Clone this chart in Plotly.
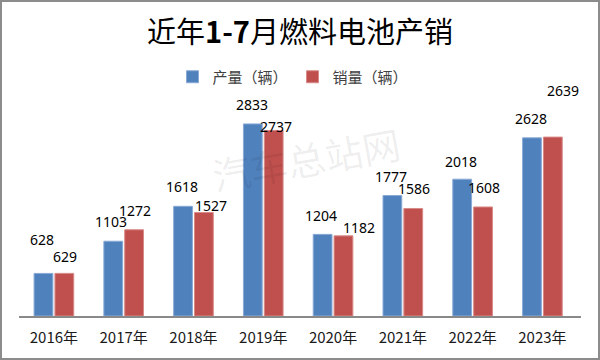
import plotly.graph_objects as go

years = ["2016年", "2017年", "2018年", "2019年", "2020年", "2021年", "2022年", "2023年"]
production = [628, 1103, 1618, 2833, 1204, 1777, 2018, 2628]
sales = [629, 1272, 1527, 2737, 1182, 1586, 1608, 2639]

# label placement (style only): pixels above bar top, extra x shift
prod_lift = [34, 20, 20, 19, 19, 19, 18, 19]
prod_dx = [0, -1, 0, 0, 0, 0, 0, 0]
sales_lift = [17, 19, 7, 4, 8, 20, 19, 47]
sales_dx = [0, 0, 6, 1, 14, 0, 0, 9]

BLUE = "#4F81BD"
RED = "#C0504D"
CJK = "Noto Sans CJK SC"

L, R, T, B = 19, 19, 60, 44
PW, PH = 600 - L - R, 360 - T - B


def px_x(X):
    return (X - L) / PW


def px_y(Y):
    return (360 - B - Y) / PH


fig = go.Figure()
fig.add_trace(go.Bar(name="产量（辆）", x=years, y=production,
                     marker=dict(color=BLUE, line=dict(color="#8aaad6", width=1))))
fig.add_trace(go.Bar(name="销量（辆）", x=years, y=sales,
                     marker=dict(color=RED, line=dict(color="#d88a88", width=1))))

annotations = []
for yr, v, lift, dx in zip(years, production, prod_lift, prod_dx):
    annotations.append(dict(x=yr, y=v, xref="x", yref="y", text=str(v), showarrow=False,
                            xanchor="center", yanchor="middle", xshift=-11.6 + dx, yshift=lift,
                            font=dict(family="Noto Sans", size=14, color="#000000")))
for yr, v, lift, dx in zip(years, sales, sales_lift, sales_dx):
    annotations.append(dict(x=yr, y=v, xref="x", yref="y", text=str(v), showarrow=False,
                            xanchor="center", yanchor="middle", xshift=11.6 + dx, yshift=lift,
                            font=dict(family="Noto Sans", size=14, color="#000000")))
# watermark
annotations.append(dict(x=px_x(306), y=px_y(158), xref="paper", yref="paper", text="汽车总站网",
                        showarrow=False, textangle=-10,
                        font=dict(family=CJK, size=38, color="rgba(0,0,0,0.07)")))

fig.update_layout(
    width=600, height=360,
    margin=dict(l=L, r=R, t=T, b=B, pad=0, autoexpand=False),
    paper_bgcolor="white", plot_bgcolor="white",
    barmode="group", bargap=0.402, bargroupgap=0.1,
    title=dict(text="近年<b>1-7</b>月燃料电池产销", x=0.5, xref="container", xanchor="center",
               y=1 - 33 / 360, yref="container", yanchor="middle",
               font=dict(family=CJK, size=29, color="#000000")),
    legend=dict(orientation="h", x=px_x(293), xanchor="center", xref="paper",
                y=px_y(77), yanchor="middle", yref="paper",
                font=dict(family=CJK, size=15, color="#404040"),
                itemwidth=30, bgcolor="rgba(0,0,0,0)"),
    xaxis=dict(showline=True, linecolor="#898989", linewidth=1.5, ticks="",
               showgrid=False, tickfont=dict(family=CJK, size=15, color="#1a1a1a"),
               ticklabelstandoff=7, fixedrange=True, automargin=False),
    yaxis=dict(visible=False, range=[0, PH * 14.75], showgrid=False, fixedrange=True,
               automargin=False),
    annotations=annotations,
    shapes=[dict(type="rect", xref="paper", yref="paper",
                 x0=px_x(1), x1=px_x(599), y0=px_y(359), y1=px_y(1),
                 line=dict(color="#8c8c8c", width=2), fillcolor="rgba(0,0,0,0)")],
)

fig.write_html("out.html", config={"displayModeBar": False},
               post_script="document.body.style.margin='0';document.body.style.overflow='hidden';")
